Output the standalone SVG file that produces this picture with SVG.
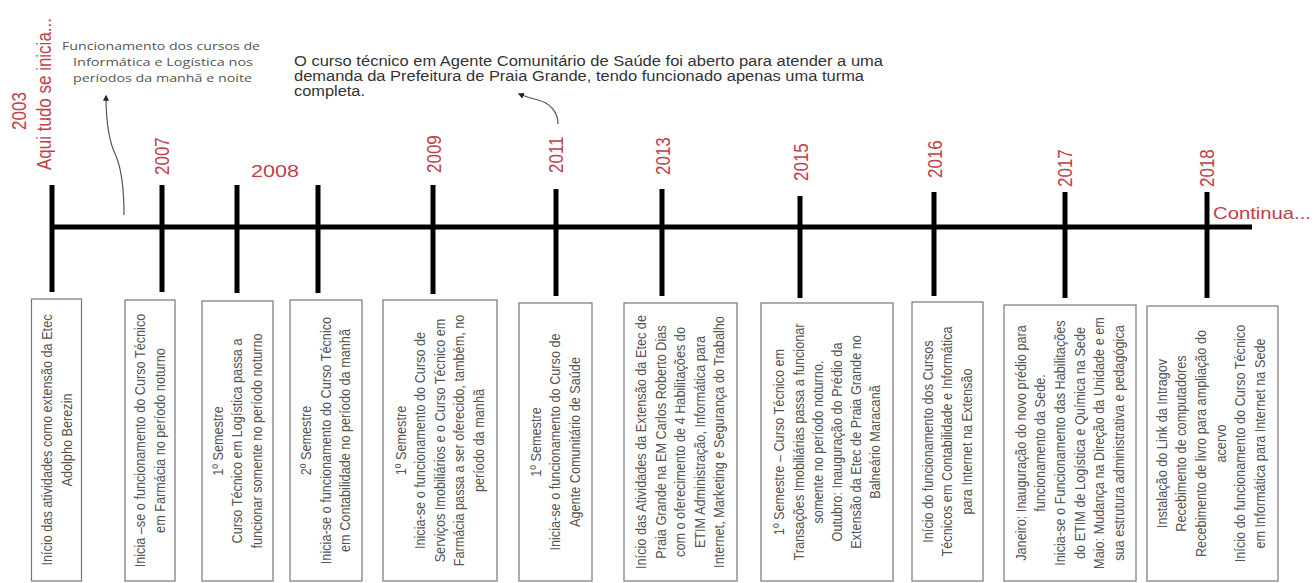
<svg xmlns="http://www.w3.org/2000/svg" width="1315" height="583" viewBox="0 0 1315 583">
<style>
.yr{font-family:"Liberation Sans",Arial,sans-serif;font-size:17px;fill:#c0404a;dominant-baseline:central}
.bx{fill:#fff;stroke:#777;stroke-width:1.2}
.bt{font-family:"Liberation Sans",Arial,sans-serif;font-size:12.7px;fill:#555;text-anchor:middle;dominant-baseline:central}
.tick{stroke:#000;stroke-width:5}
.ann1{font-family:"Open Sans","Noto Sans",sans-serif;font-size:11px;fill:#555;text-anchor:middle}
.ann2{font-family:"Liberation Sans",Arial,sans-serif;font-size:14px;fill:#333}
.arr{fill:none;stroke:#555;stroke-width:1.2;marker-end:url(#ah)}
</style>
<defs>
<marker id="ah" viewBox="0 0 10 10" refX="8" refY="5" markerWidth="6" markerHeight="6" markerUnits="userSpaceOnUse" orient="auto">
<path d="M0,0 L10,5 L0,10 z" fill="#222"/>
</marker>
</defs>
<rect width="1315" height="583" fill="#fff"/>

<g id="connectors">
<line x1="52" y1="227" x2="1252" y2="227" stroke="#000" stroke-width="5"/>
<line class="tick" x1="52" y1="185" x2="52" y2="292"/>
<line class="tick" x1="162" y1="185" x2="162" y2="292"/>
<line class="tick" x1="237" y1="185" x2="237" y2="293"/>
<line class="tick" x1="318" y1="185" x2="318" y2="293"/>
<line class="tick" x1="433" y1="185" x2="433" y2="294"/>
<line class="tick" x1="556" y1="189" x2="556" y2="296"/>
<line class="tick" x1="662" y1="189" x2="662" y2="296"/>
<line class="tick" x1="800" y1="196" x2="800" y2="298"/>
<line class="tick" x1="934" y1="192" x2="934" y2="296"/>
<line class="tick" x1="1065" y1="192" x2="1065" y2="298"/>
<line class="tick" x1="1207" y1="192" x2="1207" y2="298"/>
<path class="arr" d="M124,215 C124,190 121,168 116,156 C109,142 106,125 106,96"/>
<path class="arr" d="M558,124 C558,112 550,103 538,100 C530,98 524,96 519,94"/>
</g>

<g id="note-2003">
<text class="ann1" x="161" y="50" textLength="198" lengthAdjust="spacingAndGlyphs">Funcionamento  dos cursos de</text>
<text class="ann1" x="163" y="66" textLength="180" lengthAdjust="spacingAndGlyphs">Informática e Logística nos</text>
<text class="ann1" x="162.5" y="81.5" textLength="179" lengthAdjust="spacingAndGlyphs">períodos  da manhã e noite</text>
</g>

<g id="note-2011">
<text class="ann2" x="294" y="66" textLength="589" lengthAdjust="spacingAndGlyphs">O curso técnico em Agente Comunitário de Saúde foi aberto para atender a uma</text>
<text class="ann2" x="294" y="81" textLength="570" lengthAdjust="spacingAndGlyphs">demanda da Prefeitura de Praia Grande, tendo funcionado apenas uma turma</text>
<text class="ann2" x="294" y="96" textLength="71" lengthAdjust="spacingAndGlyphs">completa.</text>
</g>

<g id="node-2003">
<text class="yr" text-anchor="middle" transform="translate(19,111) scale(1.15,1) rotate(-90)">2003</text>
<text class="yr" text-anchor="middle" transform="translate(44,94) scale(1.15,1) rotate(-90)">Aqui tudo se inicia...</text>
<rect class="bx" x="31.5" y="299" width="50" height="282"/>
<text class="bt" transform="translate(47.25,440) scale(1.15,1) rotate(-90)">Início das atividades como extensão  da Etec</text>
<text class="bt" transform="translate(66.75,440) scale(1.15,1) rotate(-90)">Adolpho Berezin</text>
</g>

<g id="node-2007">
<text class="yr" transform="translate(162,175) scale(1.15,1) rotate(-90)">2007</text>
<rect class="bx" x="125" y="300" width="50" height="281"/>
<text class="bt" transform="translate(140.25,440.5) scale(1.15,1) rotate(-90)">Inicia –se o funcionamento  do Curso Técnico</text>
<text class="bt" transform="translate(159.75,440.5) scale(1.15,1) rotate(-90)">em Farmácia no período noturno</text>
</g>

<g id="node-2008a">
<text class="yr" x="251" y="171" textLength="48" lengthAdjust="spacingAndGlyphs">2008</text>
<rect class="bx" x="202" y="301" width="71" height="280"/>
<text class="bt" transform="translate(218,441) scale(1.15,1) rotate(-90)">1º Semestre</text>
<text class="bt" transform="translate(237.5,441) scale(1.15,1) rotate(-90)">Curso Técnico em Logística passa a</text>
<text class="bt" transform="translate(257,441) scale(1.15,1) rotate(-90)">funcionar somente no período noturno</text>
</g>

<g id="node-2008b">
<rect class="bx" x="290" y="300" width="72" height="281"/>
<text class="bt" transform="translate(306.5,440.5) scale(1.15,1) rotate(-90)">2º Semestre</text>
<text class="bt" transform="translate(326,440.5) scale(1.15,1) rotate(-90)">Inicia-se o funcionamento  do Curso Técnico</text>
<text class="bt" transform="translate(345.5,440.5) scale(1.15,1) rotate(-90)">em Contabilidade no período  da manhã</text>
</g>

<g id="node-2009">
<text class="yr" transform="translate(434,173) scale(1.15,1) rotate(-90)">2009</text>
<rect class="bx" x="383" y="300" width="114" height="281"/>
<text class="bt" transform="translate(401,440.5) scale(1.15,1) rotate(-90)">1º Semestre</text>
<text class="bt" transform="translate(420.5,440.5) scale(1.15,1) rotate(-90)">Inicia-se o funcionamento  do Curso de</text>
<text class="bt" transform="translate(440,440.5) scale(1.15,1) rotate(-90)">Serviços Imobiliários e o Curso Técnico em</text>
<text class="bt" transform="translate(459.5,440.5) scale(1.15,1) rotate(-90)">Farmácia passa a ser oferecido, também, no</text>
<text class="bt" transform="translate(479,440.5) scale(1.15,1) rotate(-90)">período da manhã</text>
</g>

<g id="node-2011">
<text class="yr" transform="translate(556,173) scale(1.15,1) rotate(-90)">2011</text>
<rect class="bx" x="519" y="303" width="73" height="278"/>
<text class="bt" transform="translate(536,442) scale(1.15,1) rotate(-90)">1º Semestre</text>
<text class="bt" transform="translate(555.5,442) scale(1.15,1) rotate(-90)">Inicia-se o funcionamento  do Curso de</text>
<text class="bt" transform="translate(575,442) scale(1.15,1) rotate(-90)">Agente Comunitário de Saúde</text>
</g>

<g id="node-2013">
<text class="yr" transform="translate(663,175) scale(1.15,1) rotate(-90)">2013</text>
<rect class="bx" x="624" y="303" width="113" height="278"/>
<text class="bt" transform="translate(641.5,442) scale(1.15,1) rotate(-90)">Início  das Atividades da Extensão da Etec de</text>
<text class="bt" transform="translate(661,442) scale(1.15,1) rotate(-90)">Praia Grande na EM Carlos Roberto Dias</text>
<text class="bt" transform="translate(680.5,442) scale(1.15,1) rotate(-90)">com o oferecimento  de 4 Habilitações do</text>
<text class="bt" transform="translate(700,442) scale(1.15,1) rotate(-90)">ETIM Administração, Informática para</text>
<text class="bt" transform="translate(719.5,442) scale(1.15,1) rotate(-90)">Internet,  Marketing e Segurança do Trabalho</text>
</g>

<g id="node-2015">
<text class="yr" transform="translate(801,181) scale(1.15,1) rotate(-90)">2015</text>
<rect class="bx" x="761" y="303" width="132" height="278"/>
<text class="bt" transform="translate(779.5,442) scale(1.15,1) rotate(-90)">1º Semestre – Curso Técnico em</text>
<text class="bt" transform="translate(798.7,442) scale(1.15,1) rotate(-90)">Transações Imobiliárias passa a funcionar</text>
<text class="bt" transform="translate(817.9,442) scale(1.15,1) rotate(-90)">somente no período noturno.</text>
<text class="bt" transform="translate(837.1,442) scale(1.15,1) rotate(-90)">Outubro:  Inauguração  do Prédio da</text>
<text class="bt" transform="translate(856.3,442) scale(1.15,1) rotate(-90)">Extensão da Etec de Praia Grande no</text>
<text class="bt" transform="translate(875.5,442) scale(1.15,1) rotate(-90)">Balneário Maracanã</text>
</g>

<g id="node-2016">
<text class="yr" transform="translate(935,178) scale(1.15,1) rotate(-90)">2016</text>
<rect class="bx" x="912" y="302" width="71" height="279"/>
<text class="bt" transform="translate(928,441.5) scale(1.15,1) rotate(-90)">Início  do funcionamento  dos Cursos</text>
<text class="bt" transform="translate(947.5,441.5) scale(1.15,1) rotate(-90)">Técnicos em Contabilidade e Informática</text>
<text class="bt" transform="translate(967,441.5) scale(1.15,1) rotate(-90)">para Internet  na Extensão</text>
</g>

<g id="node-2017">
<text class="yr" transform="translate(1065,187) scale(1.15,1) rotate(-90)">2017</text>
<rect class="bx" x="1004" y="305" width="132" height="276"/>
<text class="bt" transform="translate(1021,443) scale(1.15,1) rotate(-90)">Janeiro: Inauguração  do novo prédio para</text>
<text class="bt" transform="translate(1040.6,443) scale(1.15,1) rotate(-90)">funcionamento  da Sede.</text>
<text class="bt" transform="translate(1060.2,443) scale(1.15,1) rotate(-90)">Inicia-se o Funcionamento  das Habilitações</text>
<text class="bt" transform="translate(1079.8,443) scale(1.15,1) rotate(-90)">do ETIM de Logística e Química na Sede</text>
<text class="bt" transform="translate(1099.4,443) scale(1.15,1) rotate(-90)">Maio: Mudança na Direção da Unidade e em</text>
<text class="bt" transform="translate(1119,443) scale(1.15,1) rotate(-90)">sua estrutura  administrativa e pedagógica</text>
</g>

<g id="node-2018">
<text class="yr" transform="translate(1207,187) scale(1.15,1) rotate(-90)">2018</text>
<text class="yr" x="1213" y="213" textLength="98" lengthAdjust="spacingAndGlyphs">Continua...</text>
<rect class="bx" x="1147" y="306" width="131" height="275"/>
<text class="bt" transform="translate(1162,443.5) scale(1.15,1) rotate(-90)">Instalação do Link da Intragov</text>
<text class="bt" transform="translate(1181.6,443.5) scale(1.15,1) rotate(-90)">Recebimento de computadores</text>
<text class="bt" transform="translate(1201.2,443.5) scale(1.15,1) rotate(-90)">Recebimento de livro para ampliação do</text>
<text class="bt" transform="translate(1220.8,443.5) scale(1.15,1) rotate(-90)">acervo</text>
<text class="bt" transform="translate(1240.4,443.5) scale(1.15,1) rotate(-90)">Início do funcionamento  do Curso Técnico</text>
<text class="bt" transform="translate(1260,443.5) scale(1.15,1) rotate(-90)">em Informática para Internet  na Sede</text>
</g>
</svg>
